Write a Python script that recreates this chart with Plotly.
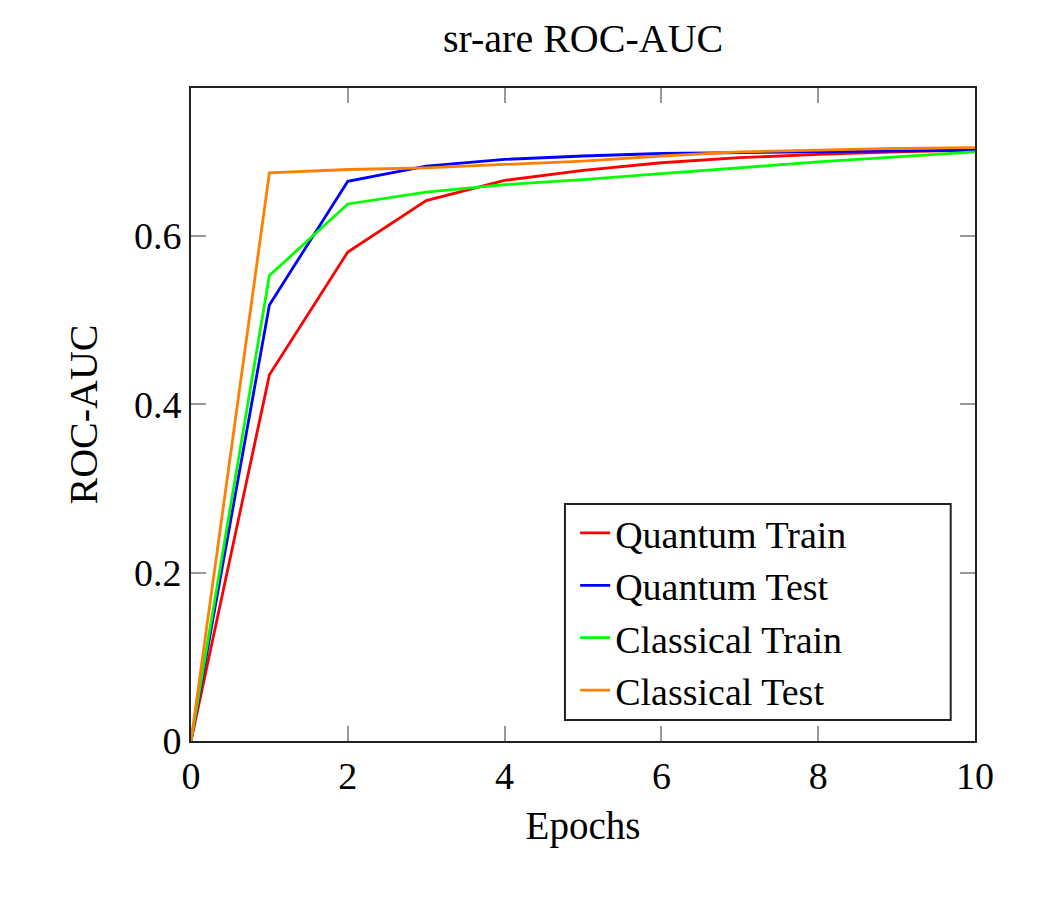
import plotly.graph_objects as go

epochs = [0, 1, 2, 3, 4, 5, 6, 7, 8, 9, 10]
quantum_train = [0.0, 0.435, 0.581, 0.642, 0.666, 0.678, 0.687, 0.693, 0.697, 0.700, 0.702]
quantum_test = [0.0, 0.518, 0.665, 0.683, 0.691, 0.695, 0.698, 0.699, 0.700, 0.701, 0.702]
classical_train = [0.0, 0.553, 0.638, 0.652, 0.661, 0.667, 0.674, 0.681, 0.688, 0.694, 0.700]
classical_test = [0.0, 0.675, 0.679, 0.681, 0.685, 0.689, 0.695, 0.700, 0.702, 0.704, 0.705]

series_names = ["Quantum Train", "Quantum Test", "Classical Train", "Classical Test"]
series_colors = ["#ff0000", "#0000ff", "#00ff00", "#ff8000"]
series_values = [quantum_train, quantum_test, classical_train, classical_test]

x_ticks = [0, 2, 4, 6, 8, 10]
y_ticks = [0, 0.2, 0.4, 0.6]
y_tick_text = ["0", "0.2", "0.4", "0.6"]

FONT = "Liberation Serif"

fig = go.Figure()
for name, color, vals in zip(series_names, series_colors, series_values):
    fig.add_trace(go.Scatter(x=epochs, y=vals, mode="lines", name=name,
                             line=dict(color=color, width=2.8)))

# legend frame (pgfplots style box)
fig.add_shape(type="rect", xref="paper", yref="paper",
              x0=0.477, x1=0.969, y0=0.032, y1=0.363,
              line=dict(color="#222", width=2), fillcolor="white", layer="above")

fig.update_layout(
    width=1063, height=909,
    paper_bgcolor="white", plot_bgcolor="white",
    margin=dict(l=183, r=96, t=80, b=176),
    font=dict(family=FONT, color="black", size=38),
    title=dict(text="sr-are ROC-AUC", x=0.541, xanchor="center", y=0.967, yanchor="middle",
               font=dict(family=FONT, size=40)),
    showlegend=True,
    legend=dict(x=0.49, xanchor="left", y=0.198, yanchor="middle",
                bgcolor="rgba(0,0,0,0)", borderwidth=0,
                font=dict(family=FONT, size=38), tracegroupgap=0),
)
fig.update_xaxes(range=[0, 10], tickvals=x_ticks, showgrid=False, zeroline=False,
                 showline=True, linecolor="#222", linewidth=2, mirror="ticks",
                 ticks="inside", ticklen=15, tickcolor="#999", tickwidth=1.5,
                 title=dict(text="Epochs", font=dict(family=FONT, size=39), standoff=16),
                 tickfont=dict(family=FONT, size=38))
fig.update_yaxes(range=[0, 0.7758], tickvals=y_ticks, ticktext=y_tick_text, showgrid=False,
                 zeroline=False, showline=True, linecolor="#222", linewidth=2, mirror="ticks",
                 ticks="inside", ticklen=15, tickcolor="#999", tickwidth=1.5,
                 title=dict(text="ROC-AUC", font=dict(family=FONT, size=40), standoff=24),
                 tickfont=dict(family=FONT, size=38))

fig.write_html("out.html")
